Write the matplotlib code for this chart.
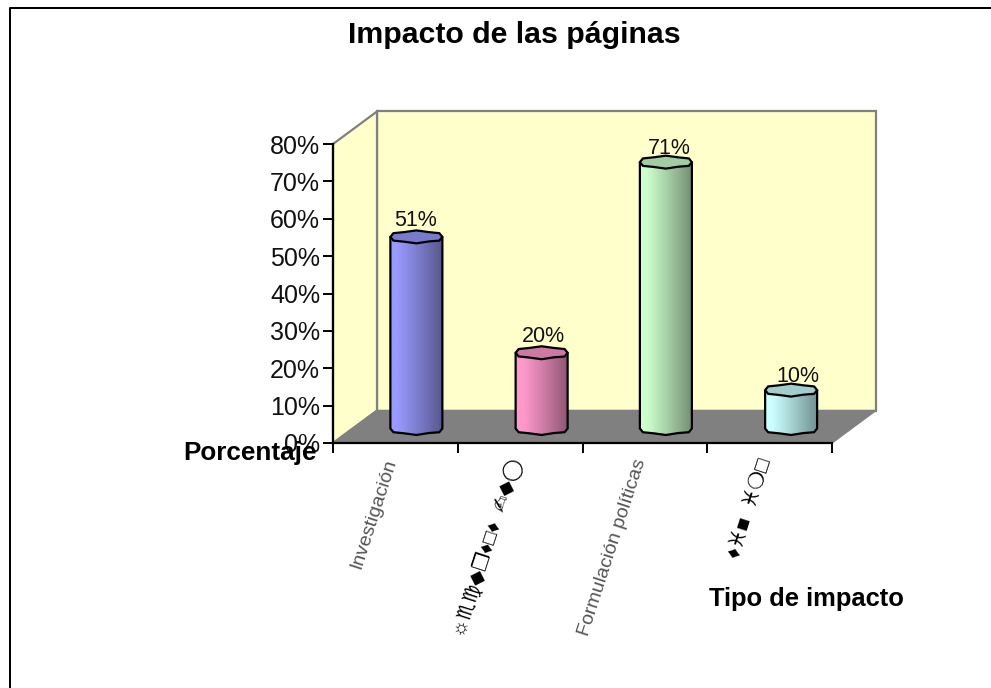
import numpy as np
import matplotlib
matplotlib.use("Agg")
import matplotlib.pyplot as plt
from matplotlib.patches import Polygon
from matplotlib.lines import Line2D
from matplotlib.colors import to_rgb

plt.rcParams['font.family'] = ['Liberation Sans', 'DejaVu Sans']

categories = ['Investigación', '☼♏♍◆❒♦□♦  ✍◆◯', 'Formulación políticas', '♦♓■  ♓❍□']
values = [0.51, 0.20, 0.71, 0.10]
value_labels = ['51%', '20%', '71%', '10%']
light = ['#9999ff', '#ff99cc', '#ccffcc', '#ccffff']
dark = ['#58588f', '#8f5673', '#738f73', '#6f8f8f']
top = ['#7a7acc', '#cc7aa3', '#a3cca3', '#a3cccc']
label_colors = ['#555555', '#000000', '#555555', '#000000']
label_sizes = [14, 14.5, 14, 15]
label_dx = [-2, 1, 2, 6]
label_dy = [0, 0, -3, -3]
yticks = [0, .1, .2, .3, .4, .5, .6, .7, .8]

W, H = 991, 688
fig = plt.figure(figsize=(W / 100, H / 100), dpi=100, facecolor='white')
L, R, T, B = 333, 832, 144, 443
ax = fig.add_axes([L / W, 1 - B / H, (R - L) / W, (B - T) / H])
ax.set_xlim(0, 4)
ax.set_ylim(0, 0.8)
ax.patch.set_visible(False)

px = 4 / (R - L)
py = 0.8 / (B - T)
dx, dy = 44 * px, 32.5 * py

wall = '#ffffcc'
grey = '#808080'
ax.add_patch(Polygon([(dx, dy), (4 + dx, dy), (4 + dx, .8 + dy), (dx, .8 + dy)], fc=wall, ec=grey, lw=1.6, clip_on=False, zorder=1))
ax.add_patch(Polygon([(0, 0), (dx, dy), (dx, .8 + dy), (0, .8)], fc=wall, ec=grey, lw=1.6, clip_on=False, zorder=1))
ax.add_patch(Polygon([(0, 0), (4, 0), (4 + dx, dy), (dx, dy)], fc=grey, ec=grey, lw=1, clip_on=False, zorder=2))

rx, ry = 0.5 * 52 * px, 6 * py
base = 14.5 * py
ang = np.radians([0, 28, 62, 90, 118, 152, 180, 208, 242, 270, 298, 332])
wob = np.array([0, .15, -.08, .08, -.08, .15, 0, -.15, .08, -.08, .12, -.15])
for i, v in enumerate(values):
    c = i + 0.5 + dx / 2 - 1 * px + (0.5 * px if i in (1, 3) else 0)
    ytop = base + v + 1 * py
    xs = c + rx * np.cos(ang)
    ye = ry * (np.sin(ang) + wob)
    front = np.where(np.sin(ang) <= 0)[0]
    front = front[np.argsort(np.arctan2(np.sin(ang[front]), np.cos(ang[front])))]
    bx, by = xs[front], base + ye[front]
    outline = [(c - rx, ytop), (c - rx, base)] + list(zip(bx, by)) + [(c + rx, base), (c + rx, ytop)]
    lc, dc = np.array(to_rgb(light[i])), np.array(to_rgb(dark[i]))
    t = np.linspace(0, 1, 64)
    f = np.clip((t - .12) / .88, 0, 1) ** 1.1
    grad = (lc[None, :] * (1 - f[:, None]) + dc[None, :] * f[:, None])[None, :, :]
    body = Polygon(outline, fc='none', ec='none', transform=ax.transData)
    ax.add_patch(body)
    im = ax.imshow(grad, extent=[c - rx, c + rx, base - ry * 1.3, ytop + ry], aspect='auto', zorder=3, interpolation='bilinear')
    im.set_clip_path(body)
    ax.add_patch(Polygon(outline, closed=False, fill=False, ec='black', lw=1.6, zorder=4, clip_on=False))
    ax.add_patch(Polygon(list(zip(xs, ytop + ye)), fc=top[i], ec='black', lw=1.6, zorder=5, clip_on=False))
    ax.text(c + (1 + label_dx[i]) * px, ytop + ry + label_dy[i] * py, value_labels[i], ha='center', va='bottom', fontsize=15.5, color='#111111', zorder=6, clip_on=False)

ax.set_xlim(0, 4)
ax.set_ylim(0, 0.8)

for s in ['top', 'right']:
    ax.spines[s].set_visible(False)
for s in ['left', 'bottom']:
    ax.spines[s].set_linewidth(1.6)
    ax.spines[s].set_zorder(7)
ax.set_yticks(yticks)
ax.set_yticklabels([f'{int(round(y * 100))}%' for y in yticks], fontsize=18, color='#111111')
ax.set_xticks(range(5))
ax.set_xticklabels([])
ax.tick_params(axis='both', length=7.2, width=1.4, pad=2, direction='out')

for i, lab in enumerate(categories):
    ax.annotate(lab, xy=(i + 0.5, 0), xycoords='data', xytext=(-2.5, -12), textcoords='offset points',
                rotation=72, rotation_mode='anchor', ha='right', va='center',
                fontsize=label_sizes[i], color=label_colors[i], annotation_clip=False)

fig.text(514.5 / W, 1 - 35 / H, 'Impacto de las páginas', ha='center', va='center', fontsize=21.8, fontweight='bold')
fig.text(250 / W, 1 - 453 / H, 'Porcentaje', ha='center', va='center', fontsize=18.8, fontweight='bold', zorder=10)
fig.text(806 / W, 1 - 599 / H, 'Tipo de impacto', ha='center', va='center', fontsize=18.4, fontweight='bold')

fig.add_artist(Line2D([9.5 / W, 9.5 / W, 1], [0, 1 - 8 / H, 1 - 8 / H], color='black', lw=1.44))

fig.savefig('out.png', dpi=100)
